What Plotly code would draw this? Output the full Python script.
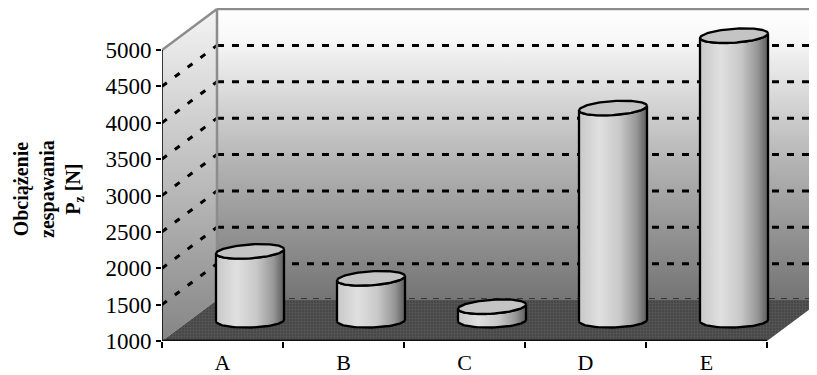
import numpy as np
import plotly.graph_objects as go

# ---- data ----
categories = ["A", "B", "C", "D", "E"]
values = [1950, 1580, 1190, 3920, 4915]          # Pz [N]
y_ticks = [1000, 1500, 2000, 2500, 3000, 3500, 4000, 4500, 5000]
y_title = "Obciążenie<br>zespawania<br>P<sub>z</sub> [N]"

# ---- pseudo-3D geometry (oblique projection) ----
Y0, Y1 = 1000, 5000
DX, DY = 0.4545, 563          # depth offset in axis units
A_R, B_R = 0.281, 96          # cylinder ellipse semi-axes (x units, y units)
TILT_TOP, TILT_BOT = 110, 40  # slight perspective tilt of ellipses
XL, XR = -0.5, len(categories) - 0.5

FONT = "Liberation Serif"
fig = go.Figure()

def poly(xs, ys, **kw):
    fig.add_trace(go.Scatter(x=list(xs), y=list(ys), mode="lines", hoverinfo="skip",
                             showlegend=False, **kw))

# back wall
poly([XL + DX, XR + DX + 1, XR + DX + 1, XL + DX, XL + DX],
     [Y0 + DY, Y0 + DY, Y1 + DY, Y1 + DY, Y0 + DY],
     fill="toself", line=dict(width=0),
     fillgradient=dict(type="vertical", start=Y0 + DY, stop=Y1 + DY,
                       colorscale=[[0, "#747474"], [0.45, "#b0b0b0"], [0.9, "#f8f8f8"],
                                   [1, "#ffffff"]]))
# side wall
poly([XL, XL, XL + DX, XL + DX, XL],
     [Y0, Y1, Y1 + DY, Y0 + DY, Y0],
     fill="toself", line=dict(width=0),
     fillgradient=dict(type="vertical", start=Y0, stop=Y1 + DY,
                       colorscale=[[0, "#858585"], [0.45, "#b8b8b8"], [1, "#f4f4f4"]]))

# back wall gridlines
for v in y_ticks[1:-1]:
    poly([XL + DX, XR + DX + 1], [v + DY, v + DY],
         line=dict(color="black", width=3, dash="7px,8px"))
# side wall gridlines
for v in y_ticks[1:-1]:
    poly([XL, XL + DX], [v, v + DY],
         line=dict(color="black", width=3, dash="6px,10px"))

# wall edges
poly([XL + DX, XR + DX + 1], [Y1 + DY, Y1 + DY], line=dict(color="#8c8c8c", width=2.5))
poly([XL, XL + DX], [Y1, Y1 + DY], line=dict(color="#8c8c8c", width=2.5))
poly([XL + DX, XL + DX], [Y0 + DY, Y1 + DY], line=dict(color="#8c8c8c", width=2.5))

# floor
poly([XL, XR, XR + DX, XL + DX, XL], [Y0, Y0, Y0 + DY, Y0 + DY, Y0],
     fill="toself", line=dict(width=0), fillcolor="#4a4a4a",
     fillpattern=dict(shape=".", bgcolor="#444444", fgcolor="#686868", size=3, solidity=0.5))
poly([XL + DX, XR + DX], [Y0 + DY + 20, Y0 + DY + 20],
     line=dict(color="#333333", width=1, dash="6px,6px"))

# cylinders
t = np.linspace(np.pi, 2 * np.pi, 60)
tf = np.linspace(0, 2 * np.pi, 120)
for i, v in enumerate(values):
    cx = i + DX / 2
    base = Y0 + DY / 2
    top = v + DY / 2
    xa = cx + A_R * np.cos(t)
    top_arc = top + B_R * np.sin(t) + TILT_TOP * A_R * np.cos(t)
    bot_arc = base + B_R * np.sin(t) + TILT_BOT * A_R * np.cos(t)
    bx = np.concatenate([[cx - A_R], xa, [cx + A_R], xa[::-1], [cx - A_R]])
    by = np.concatenate([[base - TILT_BOT * A_R], top_arc, [base + TILT_BOT * A_R],
                         bot_arc[::-1], [base - TILT_BOT * A_R]])
    poly(bx, by, fill="toself", line=dict(color="black", width=2.3),
         fillgradient=dict(type="horizontal", start=cx - A_R, stop=cx + A_R,
                           colorscale=[[0, "#c8c8c8"], [0.3, "#e0e0e0"], [0.6, "#c8c8c8"],
                                       [0.85, "#969696"], [1, "#5c5c5c"]]))
    ex = cx + A_R * np.cos(tf)
    ey = top + B_R * np.sin(tf) + TILT_TOP * A_R * np.cos(tf)
    poly(ex, ey, fill="toself", fillcolor="#c4c4c4", line=dict(color="black", width=2.3))

# front axis lines
poly([XL, XL], [Y0, Y1], line=dict(color="black", width=1.5))
poly([XL, XR], [Y0, Y0], line=dict(color="#111111", width=3))

# page has an 8px body margin: figure spans 809x367 starting at (8, 8)
fig.update_layout(
    width=809, height=367,
    margin=dict(l=154, r=0, t=0, b=34),
    paper_bgcolor="white", plot_bgcolor="white",
    showlegend=False,
    font=dict(family=FONT, color="black"),
    xaxis=dict(range=[XL, XL + 655 / 121], tickvals=list(range(len(categories))),
               ticktext=categories, ticks="", showgrid=False, zeroline=False,
               showline=False, tickfont=dict(size=22, family=FONT, color="black"),
               ticklabelstandoff=6, automargin=False,
               minor=dict(tickvals=[k - 0.5 for k in range(len(categories) + 1)],
                          ticks="outside", ticklen=6, tickcolor="black", tickwidth=1.5,
                          showgrid=False)),
    yaxis=dict(range=[Y0, Y0 + (341 - 8) / 0.07275], tickvals=y_ticks,
               ticks="outside", ticklen=5, tickcolor="black", tickwidth=1.5,
               showgrid=False, zeroline=False, showline=False, automargin=False,
               tickfont=dict(size=23, family=FONT, color="black")),
    annotations=[dict(text="<b>" + y_title + "</b>", xref="paper", yref="paper",
                      x=(48 - 162) / 655, y=(341 - 189) / 333, xanchor="center",
                      yanchor="middle", textangle=-90, showarrow=False,
                      font=dict(size=20, family=FONT, color="black"))],
)

fig.write_html("out.html")
